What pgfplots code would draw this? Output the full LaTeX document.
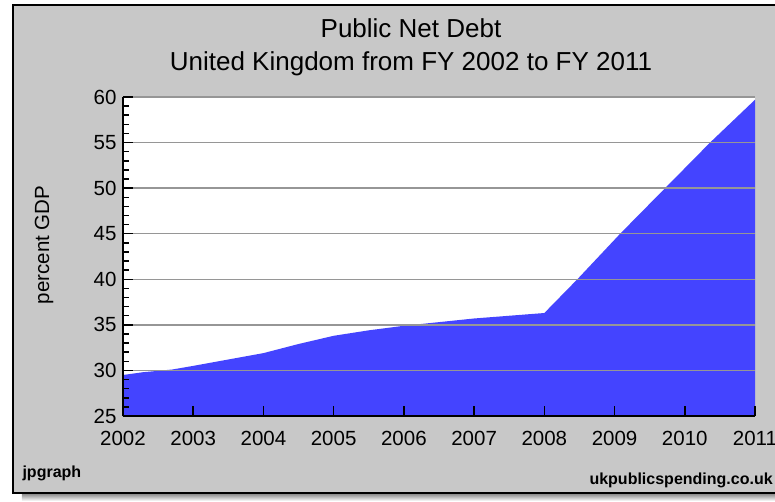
\documentclass[border=0pt]{standalone}
\usepackage{pgfplots}
\pgfplotsset{compat=1.18}
\usepackage{fontspec}
\setmainfont{Liberation Sans}
\definecolor{bg}{RGB}{200,200,200}
\definecolor{shade}{RGB}{90,90,90}
\definecolor{areablue}{RGB}{68,68,255}
\definecolor{gridgrey}{RGB}{150,150,150}
\begin{document}
\begin{tikzpicture}[x=1pt,y=1pt]
% frame (image px -> X=px-123, Y=416-py)
\fill[shade] (-101,-85) rectangle (700,-77);
\fill[bg] (-110,-77) rectangle (700,411);
\draw[black,line width=1.6pt] (700,411) -- (-110,411) -- (-110,-77) -- (700,-77);
\node[font=\fontsize{26}{30}\selectfont] at (288,388) {Public Net Debt};
\node[font=\fontsize{26}{30}\selectfont] at (288,352) {United Kingdom from FY 2002 to FY 2011};
\node[font=\fontsize{16}{19}\selectfont\bfseries,anchor=west] at (-104,-57) {jpgraph};
\node[font=\fontsize{16}{19}\selectfont\bfseries,anchor=west] at (463,-64) {ukpublicspending.co.uk};
\begin{axis}[
    scale only axis,
    width=632pt, height=319pt,
    at={(0,0)}, anchor=south west,
    xmin=2002, xmax=2011,
    ymin=25, ymax=60,
    axis x line=bottom, axis y line=left,
    axis line style={-, line width=1.5pt, black},
    axis background/.style={fill=white},
    xtick={2002,2003,...,2011},
    ytick={25,30,...,60},
    minor y tick num=4,
    tick align=inside,
    major tick length=10pt,
    minor tick length=6pt,
    every tick/.style={black, line width=1.5pt},
    ymajorgrids=true,
    grid style={gridgrey, line width=1.4pt},
    axis on top,
    /pgf/number format/assume math mode=true,
    /pgf/number format/1000 sep={},
    tick label style={font=\fontsize{20.5}{24}\selectfont},
    yticklabel style={xshift=-3pt},
    xticklabel style={yshift=-12pt},
    ylabel={percent GDP},
    every axis y label/.style={at={(-79pt,171pt)}, rotate=90, anchor=center,
        font=\fontsize{20.5}{24}\selectfont},
]
\addplot[draw=none, fill=areablue] coordinates {
    (2002.00,29.5)(2002.28,29.8)(2002.70,30.1)(2003.00,30.5)
    (2003.50,31.2)(2004.00,31.9)(2004.50,32.9)(2005.00,33.8)
    (2005.50,34.4)(2006.00,34.9)(2006.50,35.3)(2007.00,35.7)
    (2007.50,36.0)(2008.00,36.3)(2008.47,40.0)(2009.08,45.0)
    (2009.72,50.0)(2010.36,55.0)(2011.00,59.7)
} \closedcycle;
\end{axis}
\pgfresetboundingbox
\path[use as bounding box] (-123,-85) rectangle (652,416);
\end{tikzpicture}
\end{document}
